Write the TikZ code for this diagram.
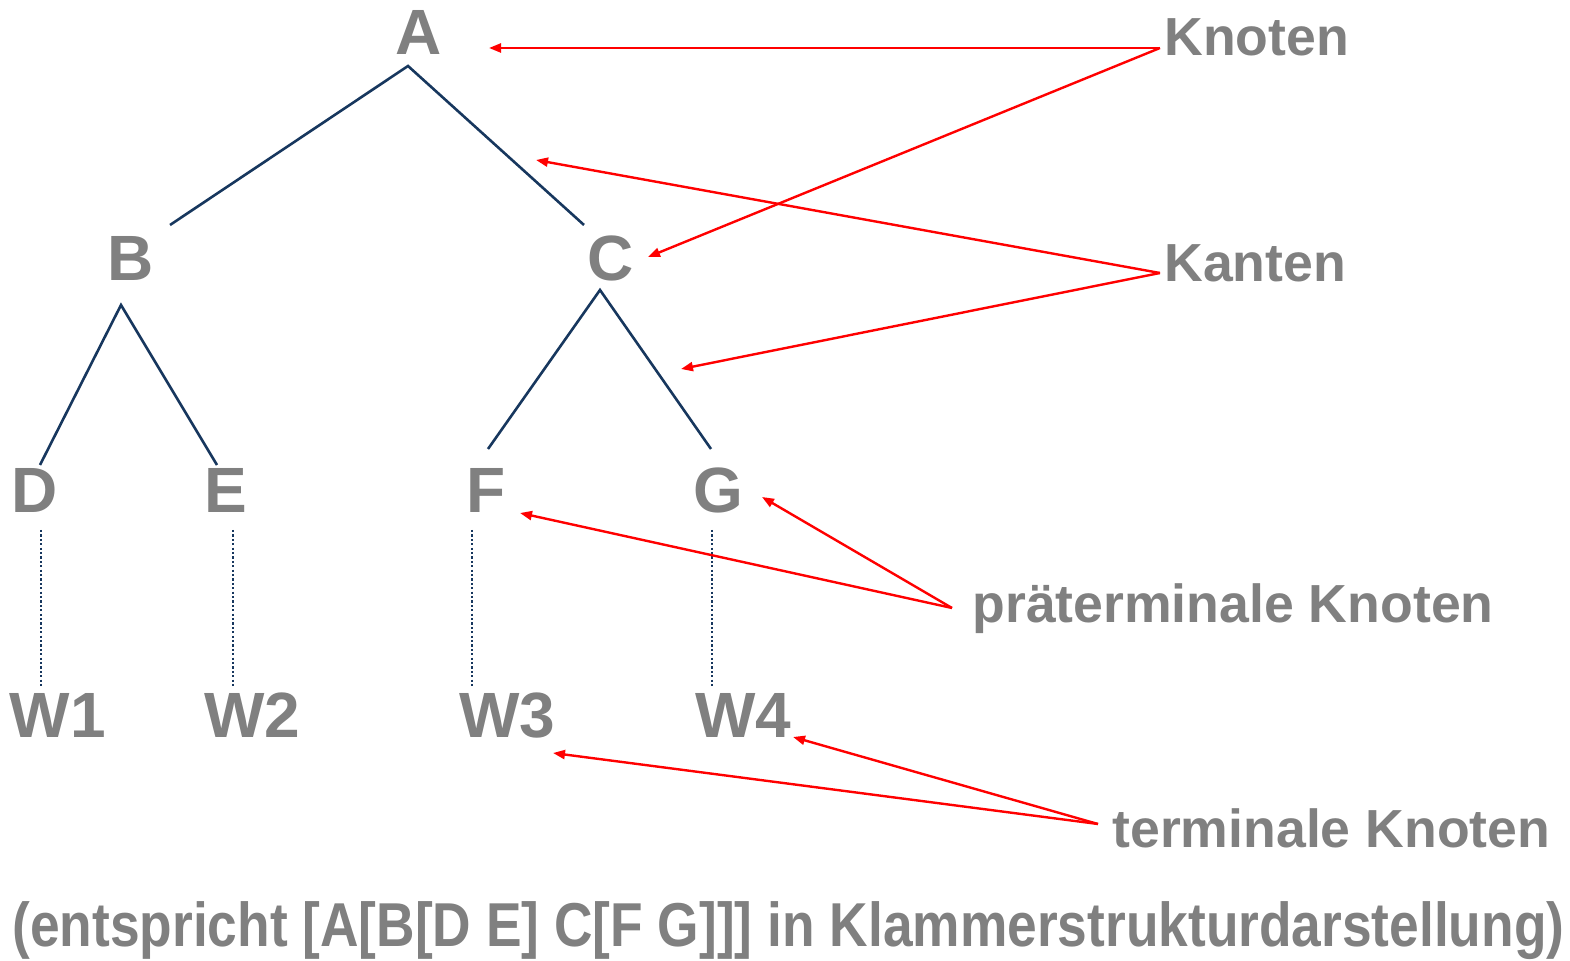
\documentclass[tikz,border=0pt]{standalone}
\usepackage{fontspec}
\setmainfont{Liberation Sans}
\usetikzlibrary{arrows.meta}
\definecolor{txtgray}{HTML}{808080}
\definecolor{treeblue}{HTML}{17375E}
\tikzset{
  treelbl/.style={inner sep=0pt, anchor=base, text=txtgray, font=\fontsize{32pt}{36pt}\selectfont\bfseries},
  sidelbl/.style={inner sep=0pt, anchor=base west, text=txtgray, font=\fontsize{26.8pt}{30pt}\selectfont\bfseries},
  edge/.style={draw=treeblue, line width=1.3pt},
  dotline/.style={draw=treeblue, line width=1.3pt, dash pattern=on 1.1pt off 1.1pt},
  pointer/.style={draw=red, line width=1.2pt, -{Triangle[length=6pt,width=4.5pt]}}
}
\begin{document}
\begin{tikzpicture}[x=0.5pt,y=-0.5pt]
\useasboundingbox (0,0) rectangle (1570,961);
% tree letters
\node[treelbl] (A) at (419,55) {A};
\node[treelbl] (B) at (131,281) {B};
\node[treelbl] (C) at (611,281) {C};
\node[treelbl] (D) at (35,513) {D};
\node[treelbl] (E) at (226,513) {E};
\node[treelbl] (F) at (486,513) {F};
\node[treelbl] (G) at (718,513) {G};
\node[treelbl] (W1) at (58,738) {W1};
\node[treelbl] (W2) at (252,738) {W2};
\node[treelbl] (W3) at (507,738) {W3};
\node[treelbl] (W4) at (743,738) {W4};
% side labels
\node[sidelbl] (lk) at (1164,56) {Knoten};
\node[sidelbl] (lka) at (1164,282) {Kanten};
\node[sidelbl] (lp) at (972,623) {präterminale Knoten};
\node[sidelbl] (lt) at (1112,848) {terminale Knoten};
\node[inner sep=0pt, anchor=base west, text=txtgray, font=\fontsize{31pt}{34pt}\selectfont\bfseries, xscale=0.86] (cap) at (12,947) {(entspricht [A[B[D E] C[F G]]] in Klammerstrukturdarstellung)};
% tree edge endpoints
\coordinate (As) at (408,66);
\coordinate (Bn) at (170,225);
\coordinate (Cn) at (584,225);
\coordinate (Bs) at (121,305);
\coordinate (Dn) at (40,465);
\coordinate (En) at (217,465);
\coordinate (Cs) at (600,290);
\coordinate (Fn) at (488,449);
\coordinate (Gn) at (711,449);
\draw[edge] (Bn) -- (As) -- (Cn);
\draw[edge] (Dn) -- (Bs) -- (En);
\draw[edge] (Fn) -- (Cs) -- (Gn);
% dotted
\coordinate (Ds) at (41,530); \coordinate (W1n) at (41,688);
\coordinate (Es) at (233,530); \coordinate (W2n) at (233,688);
\coordinate (Fs) at (472,530); \coordinate (W3n) at (472,688);
\coordinate (Gs) at (712,530); \coordinate (W4n) at (712,688);
\draw[dotline] (Ds) -- (W1n);
\draw[dotline] (Es) -- (W2n);
\draw[dotline] (Fs) -- (W3n);
\draw[dotline] (Gs) -- (W4n);
% arrow anchors
\coordinate (pk) at (1160,48);
\coordinate (pka) at (1160,273);
\coordinate (pp) at (952,608);
\coordinate (pt) at (1098,824);
\coordinate (tA) at (489,48);
\coordinate (tC) at (648,257);
\coordinate (tAC) at (536,160);
\coordinate (tCG) at (681,369);
\coordinate (tF) at (520,513);
\coordinate (tG) at (762,497);
\coordinate (tW3) at (553,753);
\coordinate (tW4) at (793,737);
\draw[pointer] (pk) -- (tA);
\draw[pointer] (pk) -- (tC);
\draw[pointer] (pka) -- (tAC);
\draw[pointer] (pka) -- (tCG);
\draw[pointer] (pp) -- (tF);
\draw[pointer] (pp) -- (tG);
\draw[pointer] (pt) -- (tW3);
\draw[pointer] (pt) -- (tW4);
\end{tikzpicture}
\end{document}
